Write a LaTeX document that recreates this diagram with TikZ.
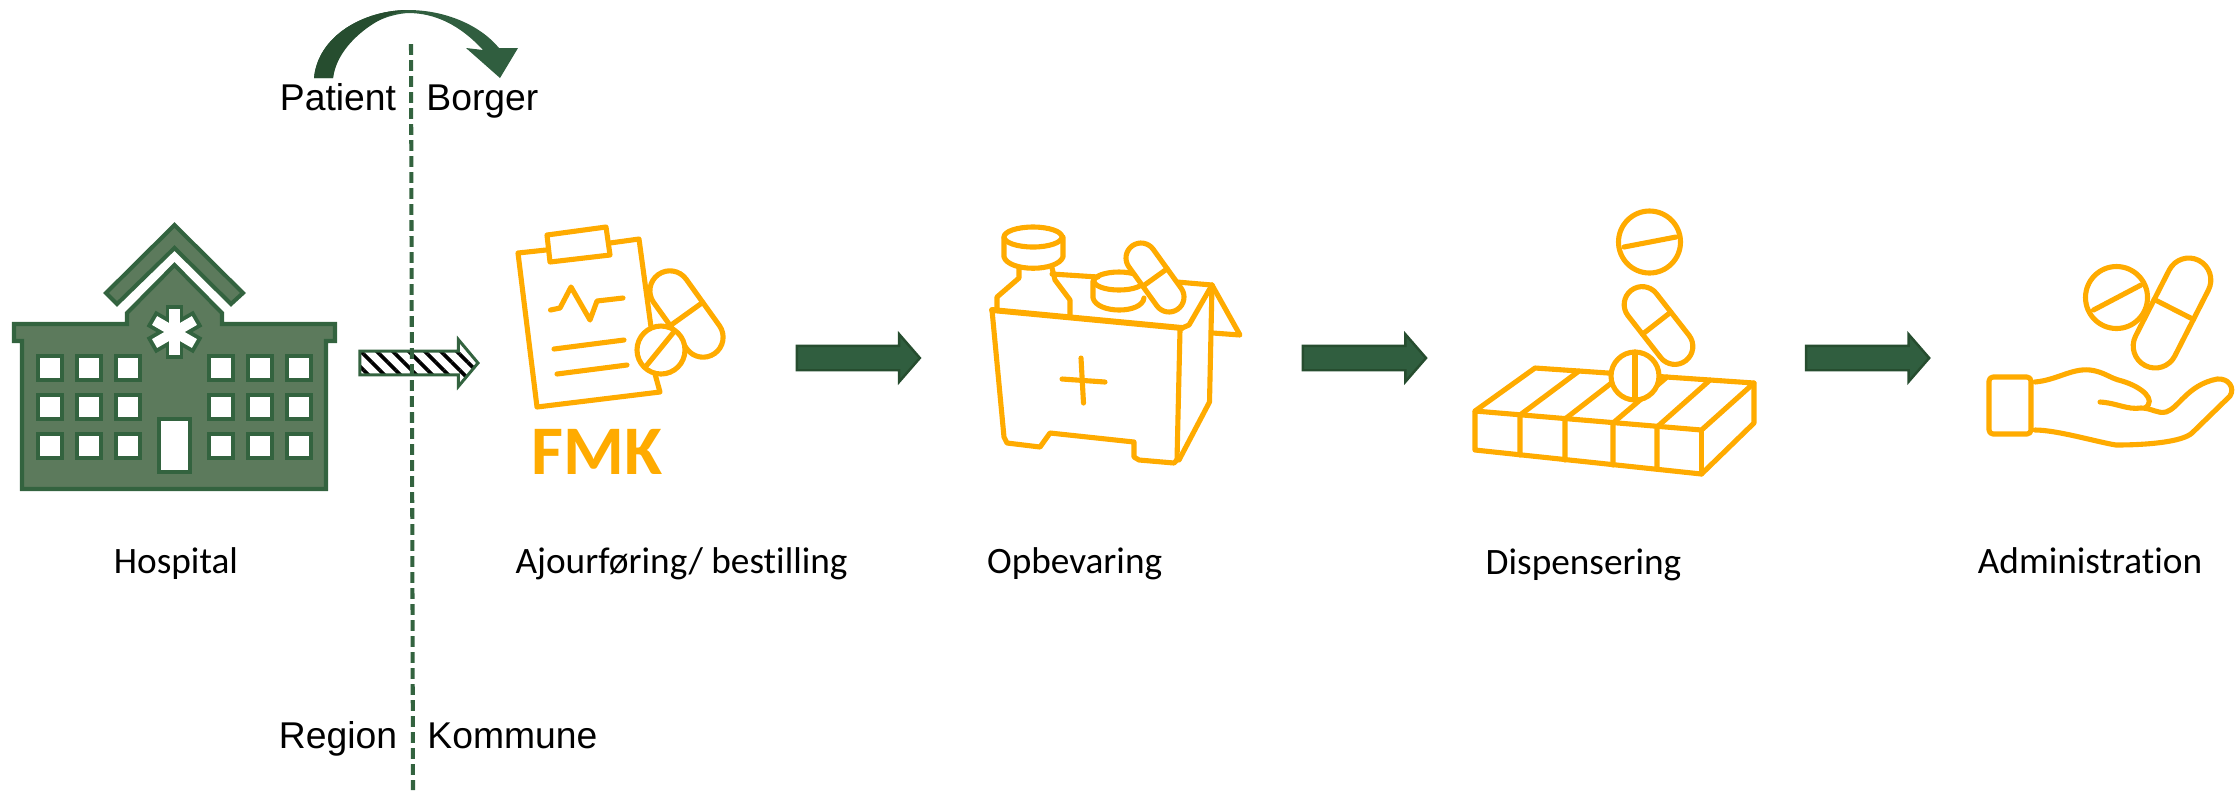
\documentclass[tikz,border=0pt]{standalone}
\usepackage{fontspec}
\setmainfont[Ligatures=NoCommon]{Carlito}
\newfontfamily\arialfont{Liberation Sans}
\usepackage{tikz}
\usetikzlibrary{shapes.arrows, positioning, patterns.meta}
\usepackage{xcolor}
\definecolor{hospfill}{RGB}{92, 122, 92}
\definecolor{hospline}{RGB}{51, 99, 63}
\definecolor{arrowfill}{RGB}{48, 94, 63}
\definecolor{arrowdark}{RGB}{38, 77, 47}
\definecolor{medorange}{RGB}{255, 171, 0}
\tikzstyle{label} = [inner sep=0pt, text height=0.27cm, text depth=0.08cm, font=\fontsize{10.6pt}{12pt}\selectfont]
\tikzstyle{sector} = [inner sep=0pt, text height=0.27cm, text depth=0.08cm, font=\arialfont\fontsize{10.6pt}{12pt}\selectfont]
\tikzstyle{flow} = [single arrow, draw=arrowdark, fill=arrowfill, line width=0.7pt, minimum height=1.23cm, inner sep=0pt, inner ysep=0.11cm, single arrow head extend=0.115cm, single arrow tip angle=98, shape border rotate=0]
\tikzstyle{hosp} = [draw=hospline, fill=hospfill, line width=1.15pt, line join=miter]
\tikzstyle{window} = [draw=hospline, fill=white, line width=1.15pt]
\tikzstyle{med} = [draw=medorange, line width=1.45pt, line join=round, line cap=round]
\newcommand{\capsule}[6]{% x, y, angle, straight length, width, cross offset
  \draw[med, fill=white, shift={(#1,#2)}, rotate=#3, rounded corners=#5*0.00499cm] (-#5/2,-#4/2-#5/2) rectangle (#5/2,#4/2+#5/2);
  \draw[med, shift={(#1,#2)}, rotate=#3] (-#5/2,#6) -- (#5/2,#6);
}

\begin{document}
\begin{tikzpicture}[x=0.01cm, y=-0.01cm]
    \useasboundingbox (0,0) rectangle (2239,790);

    % Labels
    \node (hospital) [label] at (176,564) {Hospital};
    \node (ajour) [label, right=2.76cm of hospital] {Ajourf\o ring/ bestilling};
    \node (opbev) [label, right=1.38cm of ajour] {Opbevaring};
    \node (disp) [label, right=3.22cm of opbev, yshift=-0.01cm] {Dispensering};
    \node (admin) [label, right=2.95cm of disp, yshift=0.01cm] {Administration};

    \node (patient) [sector] at (338,101) {Patient};
    \node (borger) [sector, right=0.29cm of patient] {Borger};
    \node (region) [sector] at (338,739) {Region};
    \node (kommune) [sector, right=0.29cm of region] {Kommune};

    % Hospital
    \draw [hosp] (174.5,225) -- (243,293) -- (231,304) -- (174.5,248) -- (117,304) -- (106,293) -- cycle;
    \draw [hosp] (174.5,265) -- (222,313) -- (222,324) -- (335,324) -- (335,341) -- (326,341) -- (326,489) -- (22,489) -- (22,341) -- (14,341) -- (14,324) -- (127,324) -- (127,313) -- cycle;
    \foreach \wx in {50,88.7,127.7,220.7,259.7,298.7}
        \foreach \wy in {367.7,406.7,445.7}
            \draw [window] (\wx-12,\wy-12) rectangle (\wx+12,\wy+12);
    \draw [window] (159,419) rectangle (190,472);
    % Star
    \foreach \ang in {90,30,150}
        \draw [hospline, line width=5.1pt, rotate around={\ang:(174.5,332)}] (147.5,332) -- (201.5,332);
    \foreach \ang in {90,30,150}
        \draw [white, line width=2.9pt, rotate around={\ang:(174.5,332)}] (151.5,332) -- (197.5,332);

    % Hatched arrow and divider
    \node (crossing) [single arrow, draw=hospline, line width=0.85pt, minimum height=1.18cm, inner sep=0pt, inner ysep=0.1cm, single arrow head extend=0.115cm, single arrow tip angle=100, preaction={fill=white}, pattern={Lines[angle=-45, distance=0.113cm, line width=1.05pt]}, pattern color=black] at (414,363) {};
    \coordinate (divtop) at (411,44);
    \coordinate (divbot) at (413,790);
    \draw [hospline, line width=1.15pt, dash pattern=on 3.1pt off 1.45pt] (divtop) -- (divbot);

    % Curved arrow
    \fill [arrowfill] (314,78) .. controls (318,35) and (365,10) .. (408,10) .. controls (445,10) and (480,25) .. (499,48) -- (518,48) -- (500,78) -- (466,48) -- (483,50) .. controls (460,25) and (435,13) .. (408,13) .. controls (375,15) and (338,40) .. (333,78) -- cycle;
    \fill [arrowdark] (314,78) .. controls (318,35) and (365,10) .. (408,10) .. controls (385,12) and (338,40) .. (333,78) -- cycle;

    % Flow arrows
    \node (flowa) [flow] at (853,358) {};
    \node (flowb) [flow, right=3.8cm of flowa] {};
    \node (flowc) [flow, right=3.8cm of flowb, xshift=-0.03cm] {};

    % Clipboard
    \draw [med] (546,250) -- (518,253) -- (537,407) -- (660,392) -- (655,374);
    \draw [med] (610,243) -- (639,239) -- (651,327);
    \draw [med] (547,235) -- (606,227) -- (610,255) -- (550,262) -- cycle;
    \draw [med] (550.5,310) -- (560,308) -- (571,287) -- (590,320) -- (597,301) -- (623,298);
    \draw [med] (554,349) -- (624,340);
    \draw [med] (557,374) -- (627,365);
    \capsule{686.5}{314}{35.6}{57}{40}{0}
    \draw [med, fill=white] (661,350) circle (24);
    \draw [med] (647,365) -- (673,333);
    \node (fmk) [text=medorange, inner sep=0pt, font=\fontsize{19.8pt}{20pt}\selectfont\bfseries] at (597,452) {FMK};

    % Box with bottle
    \begin{scope}[xshift=-0.03cm]
    \draw [med] (1022,268) -- (1022,278) -- (1000,297) -- (1000,308);
    \draw [med] (1055,268) -- (1058,280) -- (1073,300) -- (1073,315);
    \draw [med, fill=white] (1007,237) -- (1007,257) .. controls (1012,272) and (1060,272) .. (1066,257) -- (1066,237);
    \draw [med] (1036,237) ellipse (29 and 10);
    \draw [med] (1055,274) -- (1101,277);
    \draw [med] (1180,282) -- (1215,285);
    \draw [med] (1096,281) -- (1096,298) .. controls (1100,314) and (1145,314) .. (1147,298);
    \draw [med] (1122,281) ellipse (25 and 9);
    \capsule{1158}{277.5}{35.7}{48}{30}{0}
    \draw [med, line width=1.7pt] (995,310) -- (1185,328);
    \draw [med] (995,310) -- (1007,437) -- (1010,443) -- (1043,447) -- (1053,433) -- (1137,442) -- (1137,457) -- (1142,460) -- (1177,463) -- (1182,458);
    \draw [med] (1183,330) -- (1180,460);
    \draw [med] (1185,328) -- (1192,325) -- (1215,285) -- (1212.5,402) -- (1182,460);
    \draw [med] (1215,285) -- (1243,335) -- (1216,333);
    \draw [med] (1084,358) -- (1086.5,403);
    \draw [med] (1065,379) -- (1108,382);
    \end{scope}

    % Tray with pills
    \draw [med] (1475,411) -- (1535,368) -- (1754,383) -- (1701.5,430) -- cycle;
    \draw [med] (1475,411) -- (1475,450) -- (1701.5,474) -- (1754,423) -- (1754,383);
    \draw [med] (1701.5,430) -- (1701.5,474);
    \foreach \fx/\bx/\by/\ft/\fb in {1520/1579/371/415/455, 1565/1623/374/419/460, 1613/1667/377/423/465, 1657/1710/380/427/469}
        \draw [med] (\bx,\by) -- (\fx,\ft) -- (\fx,\fb);
    \draw [med] (1649.5,242) circle (31);
    \draw [med] (1624,247) -- (1676,237);
    \capsule{1658.5}{325.5}{38}{53}{36}{-3}
    \draw [med, fill=white] (1635,376) circle (24);
    \draw [med] (1635,352) -- (1635,400);

    % Hand with pills
    \begin{scope}[xshift=-0.03cm]
    \draw [med, rounded corners=0.04cm] (1992,377) rectangle (2034,434);
    \draw [med] (2038,382) .. controls (2060,380) and (2075,368) .. (2093,370) .. controls (2108,372) and (2112,378) .. (2125,381) .. controls (2145,387) and (2160,400) .. (2148,408);
    \draw [med] (2103,402) .. controls (2120,403) and (2130,410) .. (2144,408) .. controls (2155,408) and (2160,414) .. (2169,412) .. controls (2182,408) and (2190,385) .. (2220,379) .. controls (2232,378) and (2238,388) .. (2233,396) -- (2195,433) .. controls (2185,442) and (2150,445) .. (2119,445) .. controls (2100,442) and (2060,430) .. (2038,430);
    \draw [med, fill=white] (2119.5,297.5) circle (31);
    \draw [med] (2096.5,310) -- (2144,285);
    \capsule{2175}{313}{-27}{74}{44}{-4}
    \end{scope}
\end{tikzpicture}
\end{document}
